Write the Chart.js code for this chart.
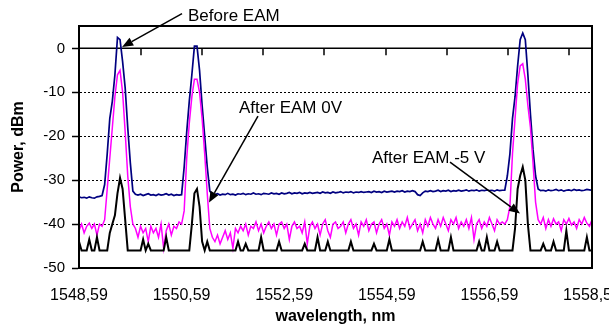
<!DOCTYPE html>
<html><head><meta charset="utf-8">
<script src="https://cdn.jsdelivr.net/npm/chart.js@4"></script>
<style>html,body{margin:0;padding:0;background:#fff;overflow:hidden}canvas{display:block}</style>
</head><body>
<canvas id="c" width="609" height="334"></canvas>
<script>
const wavelength = [
1548.59,1548.64,1548.69,1548.74,1548.79,1548.84,1548.89,1548.94,1548.99,1549.04,
1549.09,1549.14,1549.19,1549.24,1549.29,1549.34,1549.39,1549.44,1549.49,1549.54,
1549.59,1549.64,1549.69,1549.74,1549.79,1549.84,1549.89,1549.94,1549.99,1550.04,
1550.09,1550.14,1550.19,1550.24,1550.29,1550.34,1550.39,1550.44,1550.49,1550.54,
1550.59,1550.64,1550.69,1550.74,1550.79,1550.84,1550.89,1550.94,1550.99,1551.04,
1551.09,1551.14,1551.19,1551.24,1551.29,1551.34,1551.39,1551.44,1551.49,1551.54,
1551.59,1551.64,1551.69,1551.74,1551.79,1551.84,1551.89,1551.94,1551.99,1552.04,
1552.09,1552.14,1552.19,1552.24,1552.29,1552.34,1552.39,1552.44,1552.49,1552.54,
1552.59,1552.64,1552.69,1552.74,1552.79,1552.84,1552.89,1552.94,1552.99,1553.04,
1553.09,1553.14,1553.19,1553.24,1553.29,1553.34,1553.39,1553.44,1553.49,1553.54,
1553.59,1553.64,1553.69,1553.74,1553.79,1553.84,1553.89,1553.94,1553.99,1554.04,
1554.09,1554.14,1554.19,1554.24,1554.29,1554.34,1554.39,1554.44,1554.49,1554.54,
1554.59,1554.64,1554.69,1554.74,1554.79,1554.84,1554.89,1554.94,1554.99,1555.04,
1555.09,1555.14,1555.19,1555.24,1555.29,1555.34,1555.39,1555.44,1555.49,1555.54,
1555.59,1555.64,1555.69,1555.74,1555.79,1555.84,1555.89,1555.94,1555.99,1556.04,
1556.09,1556.14,1556.19,1556.24,1556.29,1556.34,1556.39,1556.44,1556.49,1556.54,
1556.59,1556.64,1556.69,1556.74,1556.79,1556.84,1556.89,1556.94,1556.99,1557.04,
1557.09,1557.14,1557.19,1557.24,1557.29,1557.34,1557.39,1557.44,1557.49,1557.54,
1557.59,1557.64,1557.69,1557.74,1557.79,1557.84,1557.89,1557.94,1557.99,1558.04,
1558.09,1558.14,1558.19,1558.24,1558.29,1558.34,1558.39,1558.44,1558.49,1558.54,
1558.59];

const beforeEAM = [
-33.8,-34.0,-33.9,-34.1,-33.8,-34.0,-34.1,-33.8,-33.7,-33.5,
-31,-24,-16,-12,-6,2.5,2,-3,-9,-18,
-26,-32.5,-33.2,-33.4,-33.2,-33.5,-33.3,-33.1,-33.4,-33.3,
-33.5,-33.2,-33.4,-33.3,-33.1,-33.4,-33.2,-33.5,-33.3,-33.4,
-33.3,-27,-19,-12,-6,0.5,0.5,-5,-13,-20,
-27,-32.5,-33.2,-33.3,-33.1,-33.4,-33.2,-33.3,-33.0,-33.3,
-33.2,-33.4,-33.1,-33.2,-33.0,-33.3,-33.1,-33.2,-32.9,-33.2,
-33.1,-33.3,-33.0,-33.1,-33.2,-32.9,-33.1,-33.0,-33.2,-32.9,
-33.1,-33.0,-32.8,-33.1,-32.9,-33.0,-32.8,-33.1,-32.9,-33.0,
-32.8,-33.0,-32.9,-32.8,-33.0,-32.7,-32.9,-32.8,-33.0,-32.7,
-32.9,-32.8,-32.6,-32.9,-32.7,-32.8,-32.6,-32.9,-32.7,-32.8,
-32.6,-32.8,-32.7,-32.6,-32.8,-32.5,-32.7,-32.6,-32.8,-32.5,
-32.7,-32.6,-32.5,-32.7,-32.5,-32.6,-32.4,-32.7,-32.5,-32.6,
-32.4,-32.6,-33.3,-33.5,-32.9,-32.5,-32.6,-32.4,-32.6,-32.5,
-32.3,-32.6,-32.4,-32.5,-32.3,-32.6,-32.4,-32.5,-32.3,-32.5,
-32.4,-32.2,-32.5,-32.3,-32.4,-32.2,-32.5,-32.3,-32.4,-32.2,
-32.4,-32.3,-32.5,-32.2,-32.4,-32.3,-32.3,-29,-24,-16,
-11,-4,2,3.5,2,-6,-15,-23,-29,-32,
-32.4,-32.3,-32.5,-32.2,-32.4,-32.3,-32.1,-32.4,-32.2,-32.5,
-32.3,-32.2,-32.4,-32.1,-32.3,-32.2,-32.4,-32.3,-32.1,-32.2,
-32.3];

const afterEAM0V = [
-41.5,-40,-42,-40.5,-39.8,-41,-40,-42.5,-40,-40.5,
-39,-32,-25,-18,-11,-6,-5,-10,-19,-29,
-36,-40,-41,-43,-40.5,-42,-41,-44,-40.5,-42,
-41,-43,-40,-45.5,-41.5,-40,-42.5,-40.5,-41,-39.5,
-40,-37,-25,-17,-11,-7,-7,-10,-16,-24,
-33,-41,-43,-44,-42.5,-44.5,-43,-41.5,-43.5,-42,
-45.5,-41,-42,-40.5,-41.5,-40,-42.5,-40.5,-41,-39.5,
-41.5,-40,-42,-40.5,-39.5,-41,-40,-42.5,-40,-39.5,
-41,-40,-43.5,-40.5,-39.5,-41,-40.5,-42,-39.5,-44.5,
-40.5,-39.5,-41,-40,-42.5,-40,-39,-41.5,-43,-40,
-39.5,-41,-40.5,-39.5,-42,-40,-39,-41,-40,-42.5,
-39.5,-40.5,-39,-41.5,-40,-39.5,-42,-40,-39,-41,
-40,-42.5,-39.5,-40.5,-39,-41,-39.5,-40.5,-38.5,-41,
-40,-39,-41.5,-40,-42,-39,-40.5,-38.5,-40,-41,
-39,-40.5,-38.5,-40,-41.5,-39,-40,-38.5,-41,-39.5,
-40.5,-39,-41,-38.5,-43.5,-40,-39,-41,-39.5,-40.5,
-38.5,-40,-41.5,-39,-40,-39.5,-40,-39,-36,-24,
-16,-8,-4,-3.5,-7,-13,-18,-26,-35,-39,
-40,-38.5,-41,-39,-40.5,-38.8,-40,-39.5,-41.5,-39,
-40,-38.7,-40.2,-39.5,-41,-39,-40,-38.5,-39.8,-40.5,
-39];

const afterEAMm5V = [
-44,-46,-46,-46,-43.5,-46,-46,-43,-46,-46,
-46,-46,-42,-40,-38,-33,-29.5,-32,-39,-46,
-46,-46,-46,-46,-46,-43.5,-46,-44.5,-46,-46,
-46,-46,-46,-46,-43,-46,-46,-46,-46,-46,
-46,-46,-46,-46,-40,-33,-32,-36,-44,-46,
-44,-46,-46,-46,-46,-46,-46,-46,-46,-46,
-46,-46,-44,-46,-46,-44.5,-46,-46,-46,-46,
-46,-43,-46,-46,-46,-46,-46,-46,-44,-46,
-46,-46,-46,-46,-46,-46,-46,-46,-44.5,-46,
-46,-46,-46,-43,-46,-46,-46,-44,-46,-46,
-46,-46,-46,-46,-46,-46,-44,-46,-46,-46,
-46,-46,-46,-46,-46,-44.5,-46,-46,-46,-46,
-46,-43.5,-46,-46,-46,-46,-46,-46,-46,-46,
-46,-46,-46,-46,-44,-46,-46,-46,-46,-46,
-43.5,-46,-46,-46,-46,-43,-46,-46,-46,-46,
-46,-46,-46,-46,-46,-46,-44,-46,-46,-43,
-46,-46,-46,-44,-46,-46,-46,-46,-46,-46,
-41,-32,-29,-27,-30,-40,-46,-46,-46,-46,
-46,-44.5,-46,-46,-46,-44,-46,-46,-46,-46,
-41.5,-46,-46,-46,-46,-46,-46,-46,-43,-46,
-46];

const xTickValues = [1548.59, 1550.59, 1552.59, 1554.59, 1556.59, 1558.59];
const yTickValues = [-50, -40, -30, -20, -10, 0];
const zeroAxisMarks = [1549.80, 1550.99, 1552.18, 1553.37, 1554.57, 1555.76, 1556.95, 1558.15];
const seriesNames = ['Before EAM', 'After EAM 0V', 'After EAM -5 V'];

// callout labels: text anchor and arrow (in data units)
const notes = [
  {text: seriesNames[0], at: [1550.715, 7.4], from: [1550.598, 7.9], to: [1549.43, 0.34]},
  {text: seriesNames[1], at: [1551.709, -13.6], from: [1552.079, -15.4], to: [1551.124, -35.1]},
  {text: seriesNames[2], at: [1554.302, -25.0], from: [1555.822, -25.9], to: [1557.186, -37.6]}
];

const FONT = "'Liberation Sans', Arial, sans-serif";
const toXY = arr => arr.map((v, i) => ({x: wavelength[i], y: v}));

const overlay = {
  id: 'overlay',
  beforeDatasetsDraw(chart) {
    const {ctx, chartArea: a, scales: {x, y}} = chart;
    const y0 = Math.round(y.getPixelForValue(0)) + 0.25;
    ctx.save();
    ctx.strokeStyle = '#000';
    ctx.lineWidth = 1.5;
    ctx.beginPath(); ctx.moveTo(a.left, y0); ctx.lineTo(a.right, y0); ctx.stroke();
    zeroAxisMarks.forEach(m => {
      const px = Math.round(x.getPixelForValue(m));
      ctx.beginPath(); ctx.moveTo(px, y0); ctx.lineTo(px, y0 + 7); ctx.stroke();
    });
    ctx.restore();
  },
  afterDraw(chart) {
    const {ctx, chartArea: a, scales: {x, y}} = chart;
    ctx.save();
    ctx.strokeStyle = '#000';
    ctx.lineWidth = 2;
    ctx.strokeRect(a.left, a.top, a.right - a.left, a.bottom - a.top);
    ctx.font = '17px ' + FONT;
    ctx.fillStyle = '#000';
    ctx.textBaseline = 'middle';
    ctx.textAlign = 'left';
    notes.forEach(n => {
      ctx.fillText(n.text, x.getPixelForValue(n.at[0]), y.getPixelForValue(n.at[1]));
      const x1 = x.getPixelForValue(n.from[0]), y1 = y.getPixelForValue(n.from[1]);
      const x2 = x.getPixelForValue(n.to[0]), y2 = y.getPixelForValue(n.to[1]);
      const ang = Math.atan2(y2 - y1, x2 - x1);
      const L = 11, W = 4.5;
      const bx = x2 - L * Math.cos(ang), by = y2 - L * Math.sin(ang);
      ctx.lineWidth = 1.5;
      ctx.beginPath(); ctx.moveTo(x1, y1); ctx.lineTo(bx, by); ctx.stroke();
      ctx.beginPath();
      ctx.moveTo(x2, y2);
      ctx.lineTo(bx + W * Math.sin(ang), by - W * Math.cos(ang));
      ctx.lineTo(bx - W * Math.sin(ang), by + W * Math.cos(ang));
      ctx.closePath(); ctx.fill();
    });
    ctx.restore();
  }
};

new Chart(document.getElementById('c'), {
  type: 'line',
  data: {
    datasets: [
      {label: seriesNames[2], data: toXY(afterEAMm5V), borderColor: '#000000', borderWidth: 2, order: 0},
      {label: seriesNames[1], data: toXY(afterEAM0V), borderColor: '#FF00FF', borderWidth: 1.5, order: 1},
      {label: seriesNames[0], data: toXY(beforeEAM), borderColor: '#000080', borderWidth: 1.7, order: 2}
    ]
  },
  options: {
    responsive: false,
    animation: false,
    devicePixelRatio: 1,
    layout: {padding: {top: 26, right: 17, left: 0, bottom: 0}},
    elements: {point: {radius: 0}, line: {tension: 0, fill: false}},
    plugins: {legend: {display: false}, tooltip: {enabled: false}},
    scales: {
      x: {
        type: 'linear', position: 'bottom', min: 1548.59, max: 1558.59,
        afterBuildTicks: s => { s.ticks = xTickValues.map(v => ({value: v})); },
        afterFit: s => { s.height = 66; s.paddingLeft = 0; s.paddingRight = 0; },
        ticks: {callback: v => Number(v).toFixed(2).replace('.', ','), font: {family: FONT, size: 16}, color: '#000', padding: 18, maxRotation: 0, autoSkip: false},
        grid: {display: false, drawTicks: false},
        border: {display: true, color: '#000', width: 2},
        title: {display: true, text: 'wavelength, nm', font: {family: FONT, size: 16, weight: 'bold', lineHeight: 1.2}, color: '#000', padding: {top: 0, bottom: 8}}
      },
      y: {
        type: 'linear', position: 'left', min: -50, max: 5.1,
        afterBuildTicks: s => { s.ticks = yTickValues.map(v => ({value: v})); },
        afterFit: s => { s.width = 79; },
        ticks: {font: {family: FONT, size: 15}, color: '#000', padding: 7, callback: v => String(v)},
        grid: {color: '#000', lineWidth: 1, drawTicks: true, tickLength: 7, tickColor: '#000', tickWidth: 1.5, tickBorderDash: []},
        border: {display: true, color: '#000', width: 2, dash: [2, 2]},
        title: {display: true, text: 'Power, dBm', font: {family: FONT, size: 16, weight: 'bold', lineHeight: 1.2}, color: '#000', padding: {top: 9, bottom: 0}}
      }
    }
  },
  plugins: [overlay]
});
</script>
</body></html>
